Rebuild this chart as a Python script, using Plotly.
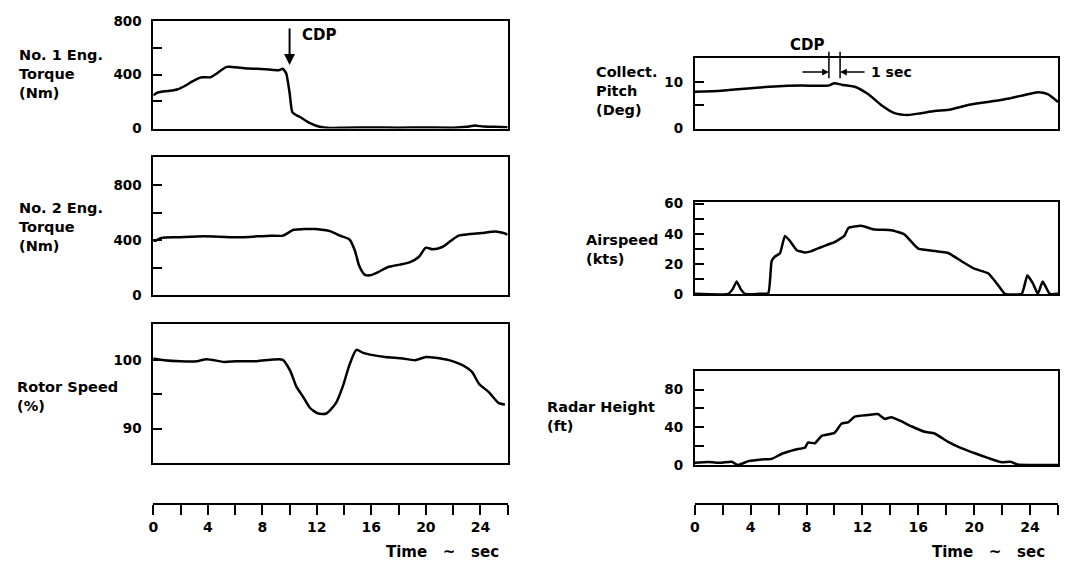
import plotly.graph_objects as go

W, H = 1068, 579

# ---------------- data ----------------
t_eng1 = [0.0, 0.3, 0.6, 1.2, 1.8, 2.4, 2.8, 3.3, 3.6, 4.2, 4.6, 5.0, 5.4, 5.8, 6.4, 7.0, 7.6, 8.2, 8.8, 9.2,
          9.5, 9.75, 10.0, 10.2, 10.5, 10.8, 11.5, 12.2, 13.0, 14.0, 16.0, 18.0, 20.0, 22.0, 23.0, 23.6, 24.2, 25.0, 26.0]
eng1 = [245, 265, 272, 278, 290, 320, 345, 372, 380, 380, 405, 435, 458, 458, 452, 446, 444, 440, 435, 432,
        444, 410, 264, 118, 95, 80, 35, 8, 0, 2, 3, 2, 3, 2, 8, 18, 10, 8, 5]

t_eng2 = [0.0, 0.2, 0.6, 1.8, 3.7, 6.1, 8.6, 9.5, 10.3, 11.0, 11.9, 13.0, 13.7, 14.4, 14.8, 15.1, 15.5, 15.9,
          16.5, 17.2, 18.1, 18.8, 19.5, 20.0, 20.5, 21.2, 21.8, 22.4, 23.2, 24.1, 25.1, 25.7, 26.0]
eng2 = [395, 398, 417, 421, 428, 421, 433, 433, 476, 481, 481, 464, 433, 405, 321, 214, 148, 143,
        167, 202, 221, 238, 279, 345, 333, 350, 393, 433, 445, 452, 464, 452, 440]

t_rotor = [0, 0.8, 2.0, 3.2, 3.9, 5.2, 6.1, 7.6, 8.8, 9.5, 10.05, 10.5, 11.0, 11.5, 12.1, 12.7, 13.4, 13.9,
           14.4, 14.9, 15.4, 15.9, 17.0, 18.3, 19.2, 20.0, 20.7, 21.7, 22.65, 23.4, 23.9, 24.6, 25.35, 25.8]
rotor = [100.2, 99.95, 99.8, 99.8, 100.1, 99.7, 99.8, 99.8, 100.05, 100.0, 98.4, 96.1, 94.6, 93.0, 92.2, 92.2,
         93.7, 96.1, 99.3, 101.45, 101.0, 100.75, 100.4, 100.2, 99.95, 100.4, 100.3, 99.95, 99.25, 98.2, 96.5,
         95.35, 93.7, 93.5]

t_pitch = [0, 1.9, 3.8, 5.7, 7.6, 9.55, 10.0, 10.5, 11.45, 12.4, 13.36, 14.3, 15.26, 16.2, 17.16, 18.3,
           19.5, 20.97, 22.4, 23.6, 24.55, 25.26, 26.0]
pitch = [7.9, 8.1, 8.6, 9.0, 9.2, 9.2, 9.7, 9.4, 8.96, 7.4, 5.0, 3.3, 2.9, 3.3, 3.75, 4.1,
         5.0, 5.7, 6.4, 7.2, 7.8, 7.4, 5.7]

t_air = [0, 2.4, 2.7, 3.0, 3.3, 3.6, 4.55, 5.26, 5.5, 5.74, 6.1, 6.45, 6.8, 7.3, 7.9, 8.36, 9.07, 10.0, 10.7,
         11.0, 11.9, 12.9, 14.07, 15.0, 16.0, 17.2, 18.1, 19.1, 20.0, 21.0, 21.7, 22.2, 23.4, 23.8, 24.2, 24.55,
         24.9, 25.4, 26.0]
air = [0, 0, 3, 8.2, 3, 0, 0, 0.5, 21.7, 24.9, 27, 38.6, 35.4, 29.1, 27.6, 28.5, 31.2, 34.4, 38.6,
       43.9, 45.3, 42.8, 42.4, 39.6, 30.1, 28.5, 27.4, 21.7, 16.8, 13.7, 5.9, 0, 0, 12.2, 7.0, 0,
       8.2, 0, 0]

t_radar = [0, 0.98, 1.93, 2.64, 3.1, 3.84, 4.8, 5.5, 6.2, 7.16, 7.9, 8.1, 8.6, 9.07, 10.0, 10.5, 11.0, 11.45,
           12.4, 13.1, 13.6, 14.07, 14.8, 15.5, 16.45, 17.16, 18.1, 19.07, 20.0, 20.98, 21.9, 22.6, 23.1, 24.3, 26.0]
radar = [2.4, 3.1, 2.4, 3.4, 0, 4.1, 5.9, 6.5, 11.7, 16.2, 18.6, 23.8, 23.1, 30.7, 34.1, 43.7, 45.5, 51.4,
         53.1, 54.1, 48.9, 50.7, 46.2, 41.1, 35.2, 33.4, 24.8, 17.9, 12.7, 7.5, 3.1, 3.4, 0.7, 0, 0]

time_ticks = list(range(0, 27, 2))
time_labels = [str(v) if v % 4 == 0 and v <= 24 else "" for v in time_ticks]

cdp_time = 10.0
cdp_marks = [9.6, 10.4]

# ---------------- layout helpers ----------------
FONT = "DejaVu Sans"
BLACK = "#000000"


def xdom(a, b):
    return [a / W, b / W]


def ydom(top, bottom):
    return [1 - bottom / H, 1 - top / H]


LEFT = xdom(149, 505)
RIGHT = xdom(693, 1058)

panels = [
    # (t, values, xdomain, ydomain, range, tickvals, ticktext, smoothing)
    (t_eng1, eng1, LEFT, ydom(13, 124), [-5, 805], [0, 200, 400, 600, 800], ["0", "", "400", "", "800"], 0.5),
    (t_eng2, eng2, LEFT, ydom(153, 295), [0, 1010], [0, 200, 400, 600, 800], ["0", "", "400", "", "800"], 0.6),
    (t_rotor, rotor, LEFT, ydom(325, 468), [85, 105.2], [90, 95, 100], ["90", "", "100"], 0.6),
    (t_pitch, pitch, RIGHT, ydom(51, 124), [0, 15.2], [0, 5, 10], ["0", "", "10"], 0.6),
    (t_air, air, RIGHT, ydom(199, 294), [0, 61.5], [0, 10, 20, 30, 40, 50, 60],
     ["0", "", "20", "", "40", "", "60"], 0.4),
    (t_radar, radar, RIGHT, ydom(373, 470), [0, 100], [0, 20, 40, 60, 80], ["0", "", "40", "", "80"], 0.5),
]

fig = go.Figure()
layout = dict(
    width=W, height=H,
    margin=dict(l=0, r=0, t=0, b=0),
    paper_bgcolor="white", plot_bgcolor="white",
    showlegend=False,
    font=dict(family=FONT, color=BLACK),
)

for i, (t, v, xd, yd, yr, tv, tt, sm) in enumerate(panels, start=1):
    sfx = "" if i == 1 else str(i)
    fig.add_trace(go.Scatter(x=t, y=v, mode="lines",
                             line=dict(color=BLACK, width=2.5, shape="spline", smoothing=sm),
                             xaxis="x" + sfx, yaxis="y" + sfx, hoverinfo="skip"))
    layout["xaxis" + sfx] = dict(domain=xd, range=[0, 26], anchor="y" + sfx,
                                 showline=True, mirror=True, linewidth=2, linecolor=BLACK,
                                 ticks="", showticklabels=False, showgrid=False, zeroline=False)
    layout["yaxis" + sfx] = dict(domain=yd, range=yr, anchor="x" + sfx,
                                 showline=True, mirror=True, linewidth=2, linecolor=BLACK,
                                 tickmode="array", tickvals=tv, ticktext=tt,
                                 ticks="inside", ticklen=9, tickwidth=2, tickcolor=BLACK,
                                 ticklabelstandoff=7,
                                 tickfont=dict(family=FONT, size=13.5, color=BLACK, weight="bold"),
                                 showgrid=False, zeroline=False)

# separate time axes
for i, xd in ((7, LEFT), (8, RIGHT)):
    sfx = str(i)
    fig.add_trace(go.Scatter(x=[], y=[], xaxis="x" + sfx, yaxis="y" + sfx, hoverinfo="skip"))
    layout["xaxis" + sfx] = dict(domain=xd, range=[0, 26], anchor="y" + sfx,
                                 showline=True, linewidth=2, linecolor=BLACK,
                                 tickmode="array", tickvals=time_ticks, ticktext=time_labels,
                                 ticks="outside", ticklen=10, tickwidth=2, tickcolor=BLACK,
                                 tickfont=dict(family=FONT, size=14, color=BLACK, weight="bold"),
                                 showgrid=False, zeroline=False)
    layout["yaxis" + sfx] = dict(domain=ydom(505, 509), range=[0, 1], anchor="x" + sfx,
                                 visible=False)

fig.update_layout(**layout)

# ---------------- annotations ----------------
lab_font = dict(family=FONT, size=14.5, color=BLACK, weight="bold")
labels = [
    ("No. 1 Eng.<br>Torque<br>(Nm)", 12, 68),
    ("No. 2 Eng.<br>Torque<br>(Nm)", 12, 225),
    ("Rotor Speed<br>(%)", 10, 400),
    ("Collect.<br>Pitch<br>(Deg)", 592, 85),
    ("Airspeed<br>(kts)", 582, 248),
    ("Radar Height<br>(ft)", 543, 420),
]
for txt, xp, yp in labels:
    fig.add_annotation(text=txt, xref="paper", yref="paper", x=xp / W, y=1 - yp / H,
                       xanchor="left", yanchor="middle", align="left", showarrow=False,
                       font=lab_font)

for xd, xc in ((LEFT, 440), (RIGHT, 988)):
    fig.add_annotation(text="Time\u00a0\u00a0\u00a0~\u00a0\u00a0\u00a0sec", xref="paper", yref="paper",
                       x=xc / W, y=1 - 559 / H, xanchor="center", yanchor="middle", showarrow=False,
                       font=dict(family=FONT, size=15, color=BLACK, weight="bold"))

# CDP arrow on No. 1 engine torque
fig.add_annotation(x=cdp_time, y=473, xref="x", yref="y", ax=0, ay=-38, text="",
                   showarrow=True, arrowhead=2, arrowsize=1.1, arrowwidth=2, arrowcolor=BLACK)
fig.add_annotation(x=10.75, y=700, xref="x", yref="y", text="CDP", showarrow=False,
                   xanchor="left", yanchor="middle",
                   font=dict(family=FONT, size=15, color=BLACK, weight="bold"))

# CDP / 1 sec marks on collective pitch
for xm in cdp_marks:
    fig.add_annotation(x=xm, y=10.8, xref="x4", yref="y4", ax=0, ay=-28, text="",
                       showarrow=True, arrowhead=0, arrowwidth=1.5, arrowcolor=BLACK)
fig.add_annotation(x=cdp_marks[0], y=12.1, xref="x4", yref="y4", ax=-28, ay=0, text="",
                   showarrow=True, arrowhead=2, arrowsize=0.9, arrowwidth=1.5, arrowcolor=BLACK)
fig.add_annotation(x=cdp_marks[1], y=12.1, xref="x4", yref="y4", ax=26, ay=0, text="",
                   showarrow=True, arrowhead=2, arrowsize=0.9, arrowwidth=1.5, arrowcolor=BLACK)
fig.add_annotation(x=12.45, y=12.1, xref="x4", yref="y4", text="1 sec", showarrow=False,
                   xanchor="left", yanchor="middle",
                   font=dict(family=FONT, size=14, color=BLACK, weight="bold"))
fig.add_annotation(x=8.0, y=1.18, xref="x4", yref="y4 domain", text="CDP", showarrow=False,
                   xanchor="center", yanchor="middle",
                   font=dict(family=FONT, size=15, color=BLACK, weight="bold"))

fig.write_html("out.html")
